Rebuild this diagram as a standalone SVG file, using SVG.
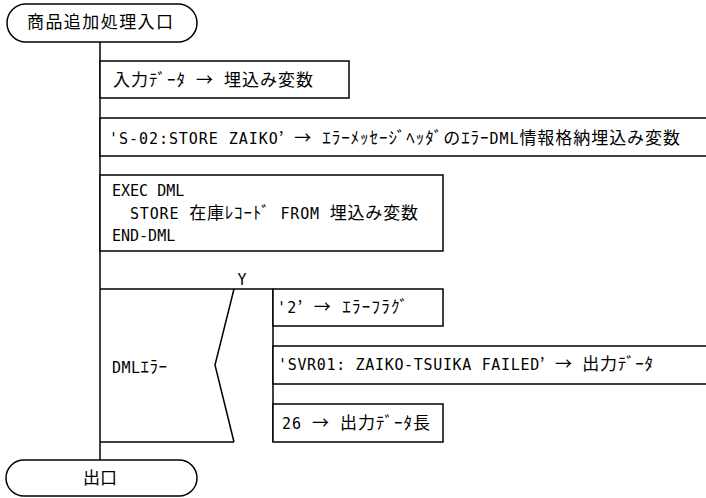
<svg xmlns="http://www.w3.org/2000/svg" width="706" height="498" viewBox="0 0 706 498">
<style>
.bx{fill:#fff;stroke:#000;stroke-width:1.5}
.ln{fill:none;stroke:#000;stroke-width:1.5}
.t{font-family:"DejaVu Sans Mono","Liberation Mono","Noto Sans CJK JP",monospace;font-size:15px;fill:#000}
.j{font-family:"Noto Sans CJK JP","Noto Sans CJK SC",sans-serif;font-size:17px}
</style>
<rect width="706" height="498" fill="#fff"/>
<g id="connectors">
<line class="ln" x1="100" y1="42" x2="100" y2="460"/>
<line class="ln" x1="273" y1="289" x2="273" y2="442"/>
</g>
<g id="start">
<rect class="bx" x="7" y="4" width="190" height="38" rx="19"/>
<text class="t j" x="27" y="28" textLength="146">商品追加処理入口</text>
</g>
<g id="step1">
<rect class="bx" x="100" y="61" width="249" height="37"/>
<text class="t" x="113" y="86" textLength="200"><tspan class="j">入力ﾃﾞｰﾀ</tspan> <tspan class="j">→</tspan> <tspan class="j">埋込み変数</tspan></text>
</g>
<g id="step2">
<rect class="bx" x="100" y="118" width="620" height="38"/>
<text class="t" x="109" y="144" textLength="571">'S-02:STORE ZAIKO<tspan class="j">’</tspan> <tspan class="j">→</tspan> <tspan class="j">ｴﾗｰﾒｯｾｰｼﾞﾍｯﾀﾞのｴﾗｰ</tspan>DML<tspan class="j">情報格納埋込み変数</tspan></text>
</g>
<g id="step3">
<rect class="bx" x="100" y="175" width="343" height="76"/>
<text class="t" x="112" y="196">EXEC DML</text>
<text class="t" x="130" y="219" textLength="288">STORE <tspan class="j">在庫ﾚｺｰﾄﾞ</tspan> FROM <tspan class="j">埋込み変数</tspan></text>
<text class="t" x="112" y="241">END-DML</text>
</g>
<g id="decision">
<path class="ln" d="M100,289 H273 M234,289 L215,365 L234,442 M100,442 H234"/>
<text class="t" x="242" y="285" text-anchor="middle">Y</text>
<text class="t" x="112" y="373" textLength="55">DML<tspan class="j">ｴﾗｰ</tspan></text>
</g>
<g id="step4">
<rect class="bx" x="273" y="289" width="170" height="37"/>
<text class="t" x="277" y="313" textLength="131">'2<tspan class="j">’</tspan> <tspan class="j">→</tspan> <tspan class="j">ｴﾗｰﾌﾗｸﾞ</tspan></text>
</g>
<g id="step5">
<rect class="bx" x="273" y="346" width="450" height="38"/>
<text class="t" x="278" y="370" textLength="375">'SVR01: ZAIKO-TSUIKA FAILED<tspan class="j">’</tspan> <tspan class="j">→</tspan> <tspan class="j">出力ﾃﾞｰﾀ</tspan></text>
</g>
<g id="step6">
<rect class="bx" x="273" y="404" width="170" height="38"/>
<text class="t" x="282" y="429" textLength="148">26 <tspan class="j">→</tspan> <tspan class="j">出力ﾃﾞｰﾀ長</tspan></text>
</g>
<g id="end">
<rect class="bx" x="6" y="460" width="191" height="36" rx="18"/>
<text class="t j" x="100" y="484" text-anchor="middle">出口</text>
</g>
</svg>
